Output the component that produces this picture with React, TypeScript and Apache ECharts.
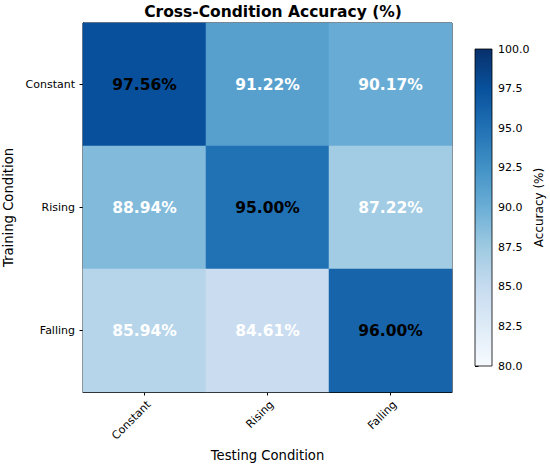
import React, { useEffect, useRef } from "react";
import * as echarts from "echarts";

const testingConditions = ["Constant", "Rising", "Falling"];
const trainingConditions = ["Constant", "Rising", "Falling"];
const accConstant = [97.56, 91.22, 90.17];
const accRising = [88.94, 95.0, 87.22];
const accFalling = [85.94, 84.61, 96.0];
const accuracyRows = [accConstant, accRising, accFalling];
const colorbarMin = 80;
const colorbarMax = 100;
const colorbarStep = 2.5;
const textThreshold = 94;

const blues = [
  "#f7fbff",
  "#deebf7",
  "#c6dbef",
  "#9ecae1",
  "#6baed6",
  "#4292c6",
  "#2171b5",
  "#08519c",
  "#08306b",
];

const FONT = "DejaVu Sans";

export default function App() {
  const ref = useRef<HTMLDivElement>(null);
  useEffect(() => {
    if (!ref.current) return;
    const chart = echarts.init(ref.current, undefined, { renderer: "svg" });
    const data: any[] = [];
    accuracyRows.forEach((row, yi) => {
      row.forEach((v, xi) => {
        data.push({
          value: [xi, yi, v],
          label: { color: v > textThreshold ? "#000000" : "#ffffff" },
        });
      });
    });
    const n = blues.length;
    const gradStops = blues.map((_, i) => ({
      offset: i / (n - 1),
      color: blues[n - 1 - i],
    }));
    chart.setOption({
      animation: false,
      backgroundColor: "#ffffff",
      textStyle: { fontFamily: FONT },
      title: {
        text: "Cross-Condition Accuracy (%)",
        left: 268,
        textAlign: "center",
        top: -1,
        textStyle: { fontFamily: FONT, fontSize: 15.5, fontWeight: "bold", color: "#000" },
      },
      grid: [
        {
          left: 83,
          top: 23,
          width: 369,
          height: 369,
          show: true,
          borderColor: "#000",
          borderWidth: 1,
          backgroundColor: "transparent",
          containLabel: false,
          outerBoundsMode: "none",
        },
        {
          left: 475,
          top: 49,
          width: 17,
          height: 317,
          show: false,
          containLabel: false,
          outerBoundsMode: "none",
        },
      ],
      xAxis: [
        {
          type: "category",
          gridIndex: 0,
          data: testingConditions,
          position: "bottom",
          name: "Testing Condition",
          nameLocation: "middle",
          nameGap: 56.5,
          nameTextStyle: { fontFamily: FONT, fontSize: 13.2, color: "#000" },
          axisLine: { show: true, lineStyle: { color: "#000", width: 1 } },
          axisTick: { show: true, alignWithLabel: true, length: 3.5, lineStyle: { color: "#000" } },
          axisLabel: {
            rotate: 45,
            fontFamily: FONT,
            fontSize: 11,
            color: "#000",
            margin: 15,
            padding: [0, -6, 0, 0],
          },
          splitLine: { show: false },
          splitArea: { show: false },
        },
        {
          type: "value",
          gridIndex: 1,
          min: 0,
          max: 1,
          show: false,
        },
      ],
      yAxis: [
        {
          type: "category",
          gridIndex: 0,
          data: trainingConditions,
          inverse: true,
          name: "Training Condition",
          nameLocation: "middle",
          nameGap: 59,
          nameRotate: 90,
          nameTextStyle: { fontFamily: FONT, fontSize: 13.2, color: "#000" },
          axisLine: { show: true, lineStyle: { color: "#000", width: 1 } },
          axisTick: { show: true, alignWithLabel: true, length: 3.5, lineStyle: { color: "#000" } },
          axisLabel: { fontFamily: FONT, fontSize: 11, color: "#000", margin: 8 },
          splitLine: { show: false },
          splitArea: { show: false },
        },
        {
          type: "value",
          gridIndex: 1,
          position: "right",
          min: colorbarMin,
          max: colorbarMax,
          interval: colorbarStep,
          name: "Accuracy (%)",
          nameLocation: "middle",
          nameGap: 41,
          nameRotate: 90,
          nameTextStyle: { fontFamily: FONT, fontSize: 12, color: "#000" },
          axisLine: { show: false },
          axisTick: { show: true, length: 3.5, lineStyle: { color: "#000" } },
          axisLabel: {
            fontFamily: FONT,
            fontSize: 11,
            color: "#000",
            margin: 6,
            formatter: (v: number) => v.toFixed(1),
          },
          splitLine: { show: false },
        },
      ],
      visualMap: {
        show: false,
        min: colorbarMin,
        max: colorbarMax,
        seriesIndex: 0,
        dimension: 2,
        inRange: { color: blues },
      },
      series: [
        {
          type: "heatmap",
          xAxisIndex: 0,
          yAxisIndex: 0,
          data,
          label: {
            show: true,
            fontFamily: FONT,
            fontSize: 15.5,
            fontWeight: "bold",
            formatter: (p: any) => p.value[2].toFixed(2) + "%",
          },
          emphasis: { disabled: true },
          itemStyle: { borderWidth: 0 },
          z: 1,
        },
        {
          type: "custom",
          xAxisIndex: 1,
          yAxisIndex: 1,
          silent: true,
          data: [[colorbarMin, colorbarMax]],
          renderItem: (params: any, api: any) => {
            const tl = api.coord([0, api.value(1)]);
            const br = api.coord([1, api.value(0)]);
            return {
              type: "rect",
              shape: { x: tl[0], y: tl[1], width: br[0] - tl[0], height: br[1] - tl[1] },
              style: {
                fill: new echarts.graphic.LinearGradient(0, 0, 0, 1, gradStops),
                stroke: "#000",
                lineWidth: 0.8,
              },
            };
          },
        },
      ],
    });
    return () => chart.dispose();
  }, []);
  return (
    <div
      ref={ref}
      style={{ position: "fixed", left: 0, top: 0, width: 550, height: 466 }}
    />
  );
}
